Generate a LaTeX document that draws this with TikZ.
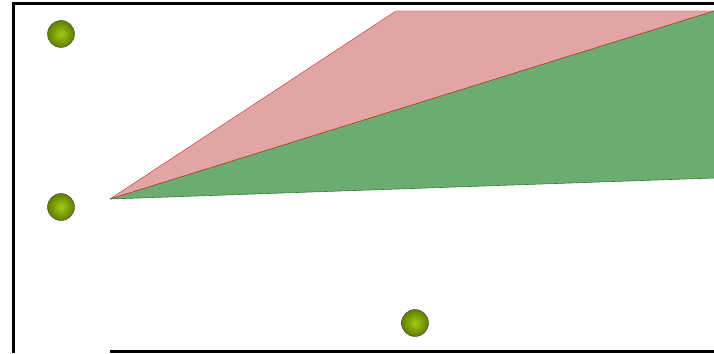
\documentclass[tikz,border=0pt]{standalone}
\usepackage{tikz}
\usetikzlibrary{positioning}

\definecolor{ballinner}{RGB}{160,205,20}
\definecolor{ballouter}{RGB}{95,125,0}
\definecolor{wedgered}{RGB}{225,165,165}
\definecolor{wedgegreen}{RGB}{108,172,112}
\definecolor{edgered}{RGB}{190,40,40}
\definecolor{edgegreen}{RGB}{40,130,50}

\begin{document}
\begin{tikzpicture}[x=1pt, y=-1pt,
    every node/.style={circle, draw=black!75, thin, minimum size=27pt, inner sep=0pt},
    ballnode/.style={shading=radial, inner color=ballinner, outer color=ballouter},
    frameline/.style={line width=3pt, black}]
    \useasboundingbox (0,0) rectangle (714,353);

    % Corner points of the wedges
    \coordinate (apex) at (110,199);
    \coordinate (redtop) at (396,11);
    \coordinate (cornerR) at (714,11);
    \coordinate (greenR) at (714,178);

    % Wedges
    \fill[wedgered] (apex) -- (redtop) -- (cornerR) -- cycle;
    \fill[wedgegreen] (apex) -- (cornerR) -- (greenR) -- cycle;
    \draw[edgered, thin] (apex) -- (redtop) -- (cornerR);
    \draw[edgered, semithick] (apex) -- (cornerR);
    \draw[edgegreen, semithick] (apex) -- (greenR);

    % Frame
    \coordinate (fTL) at (13,4);
    \coordinate (fTR) at (714,4);
    \coordinate (fBL) at (13,353);
    \coordinate (bL) at (110,351);
    \coordinate (bR) at (714,351);
    \draw[frameline] (fTR) -- (fTL) -- (fBL);
    \draw[frameline] (bL) -- (bR);

    % Balls
    \node[ballnode] (B_top) at (61,34) {};
    \node[ballnode] (B_mid) at (61,207) {};
    \node[ballnode] (B_bot) at (415,323) {};
\end{tikzpicture}
\end{document}
